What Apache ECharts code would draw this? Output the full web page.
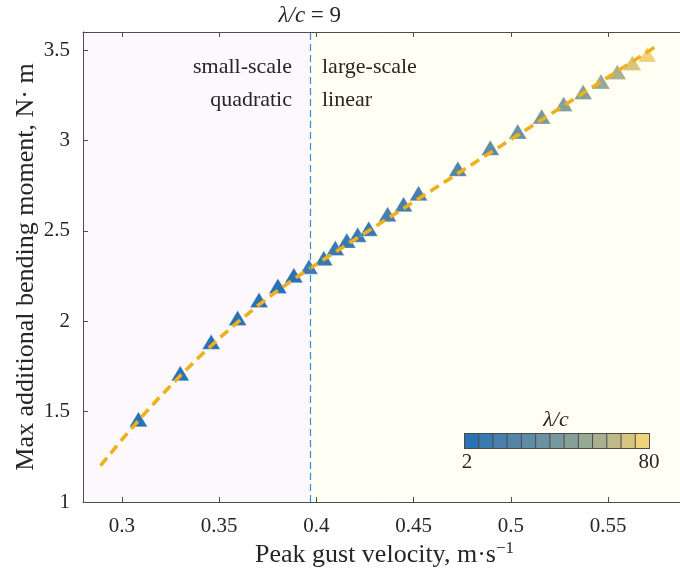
<!DOCTYPE html>
<html>
<head>
<meta charset="utf-8">
<script src="https://cdn.jsdelivr.net/npm/echarts@6/dist/echarts.min.js"></script>
<style>html,body{margin:0;padding:0;background:#fff}#c{width:680px;height:574px}</style>
</head>
<body>
<div id="c"></div>
<script>
// ---- data ----
const gustVelocity = [0.3085,0.330,0.3459,0.3595,0.3705,0.3802,0.3884,0.3962,0.4038,0.4097,0.4156,0.4212,0.4269,0.4366,0.4448,0.4525,0.4727,0.4894,0.5035,0.5158,0.5271,0.5371,0.5463,0.5547,0.5624,0.5701];
const bendingMoment = [1.458,1.712,1.886,2.018,2.118,2.195,2.254,2.302,2.349,2.405,2.446,2.479,2.512,2.592,2.647,2.708,2.843,2.959,3.050,3.133,3.202,3.268,3.326,3.379,3.428,3.475];
const lambdaOverC = [2,3,4,5,6,7,8,9,10,11,12,13,14,16,18,20,25,30,35,40,45,50,55,60,70,80];
const fitX = [0.289,0.300,0.310,0.320,0.330,0.340,0.350,0.360,0.370,0.380,0.390,0.3966,0.575];
const fitY = [1.201,1.345,1.469,1.587,1.699,1.805,1.905,1.999,2.087,2.169,2.245,2.292,3.523];
const transitionX = 0.3966;
const transitionLabel = 9;
const xTicks = [0.3,0.35,0.4,0.45,0.5,0.55];
const yTicks = [1,1.5,2,2.5,3,3.5];
const colorbarMin = 2, colorbarMax = 80, colorbarSteps = 13;
const palette = ['#2a72b4','#3a79b0','#487fac','#5485a8','#5f8ba4','#6b92a1','#77989d','#86a099','#97a894','#aab08e','#bfb987','#d6c47f','#efd27a'];

const FONT = "'Liberation Serif','Times New Roman',serif";
const TXT = '#262626';
const AX = '#4d4d4d';

const chart = echarts.init(document.getElementById('c'), null, {renderer:'canvas'});
const scatterData = gustVelocity.map((x,i)=>[x, bendingMoment[i], lambdaOverC[i]]);
const fitData = fitX.map((x,i)=>[x, fitY[i]]);
const xMin = 0.28, xMax = 0.59, yMin = 1, yMax = 3.6;

chart.setOption({
  animation:false,
  backgroundColor:'#fff',
  grid:{left:83, top:32, width:603, height:470, containLabel:false, outerBoundsMode:'none'},
  xAxis:[{
    type:'value', min:xMin, max:xMax, position:'bottom', z:10,
    axisLine:{show:true, onZero:false, lineStyle:{color:AX, width:1}},
    axisTick:{show:true, inside:true, length:5, customValues:xTicks, lineStyle:{color:AX}},
    axisLabel:{customValues:xTicks, margin:14, color:TXT, fontFamily:FONT, fontSize:21, formatter:v=>String(v)},
    splitLine:{show:false},
    name:'Peak gust velocity, m·s{sup|−1}', nameLocation:'middle', nameGap:38, nameMoveOverlap:false,
    nameTextStyle:{color:TXT, fontFamily:FONT, fontSize:26, lineHeight:30,
      rich:{sup:{fontFamily:FONT, fontSize:17, lineHeight:17, verticalAlign:'top', color:TXT}}}
  },{
    type:'value', min:xMin, max:xMax, position:'top', z:10,
    axisLine:{show:true, onZero:false, lineStyle:{color:AX, width:1}},
    axisTick:{show:true, inside:true, length:5, customValues:xTicks, lineStyle:{color:AX}},
    axisLabel:{show:false}, splitLine:{show:false}
  }],
  yAxis:{
    type:'value', min:yMin, max:yMax, z:10,
    axisLine:{show:true, onZero:false, lineStyle:{color:AX, width:1}},
    axisTick:{show:true, inside:true, length:5, customValues:yTicks, lineStyle:{color:AX}},
    axisLabel:{customValues:yTicks, margin:13, color:TXT, fontFamily:FONT, fontSize:21, formatter:v=>String(v)},
    splitLine:{show:false},
    name:'Max additional bending moment, N· m', nameLocation:'middle', nameGap:44, nameMoveOverlap:false,
    nameTextStyle:{color:TXT, fontFamily:FONT, fontSize:26}
  },
  visualMap:{
    type:'piecewise', dimension:2, seriesIndex:0, z:20,
    min:colorbarMin, max:colorbarMax, splitNumber:colorbarSteps,
    orient:'horizontal', left:464, top:433, padding:1, itemGap:1,
    itemWidth:13.23, itemHeight:14, itemSymbol:'rect', showLabel:false,
    backgroundColor:'#4a4a4a', selectedMode:false, hoverLink:false,
    inRange:{color:palette}
  },
  series:[{
    type:'scatter', data:scatterData, symbol:'triangle', symbolSize:[18,15], z:2,
    itemStyle:{opacity:1, borderColor:'rgba(255,255,255,0.45)', borderWidth:0.6},
    markArea:{silent:true, data:[
      [{xAxis:xMin, itemStyle:{color:'#fcf8fb', opacity:1}},{xAxis:transitionX}],
      [{xAxis:transitionX, itemStyle:{color:'#fffff3', opacity:1}},{xAxis:xMax}]
    ]},
    markLine:{silent:true, symbol:['none','none'], animation:false,
      lineStyle:{color:'#2f8fd6', type:[7,4], width:1.2},
      label:{show:true, position:'end', distance:5, color:TXT, fontFamily:FONT, fontSize:23,
        formatter:'{i|λ/c} = ' + transitionLabel,
        rich:{i:{fontStyle:'italic', fontFamily:FONT, fontSize:23, color:TXT}}},
      data:[[{coord:[transitionX, yMin]},{coord:[transitionX, yMax]}]]}
  },{
    type:'line', data:fitData, showSymbol:false, symbol:'none', z:3,
    lineStyle:{color:'#EDB120', width:3.6, type:[10,6]}
  }],
  graphic:[
    {type:'text', z:100, x:292, y:67, style:{text:'small-scale', align:'right', verticalAlign:'middle', font:"22px "+FONT, fill:TXT}},
    {type:'text', z:100, x:292, y:100, style:{text:'quadratic', align:'right', verticalAlign:'middle', font:"22px "+FONT, fill:TXT}},
    {type:'text', z:100, x:322, y:67, style:{text:'large-scale', align:'left', verticalAlign:'middle', font:"22px "+FONT, fill:TXT}},
    {type:'text', z:100, x:322, y:100, style:{text:'linear', align:'left', verticalAlign:'middle', font:"22px "+FONT, fill:TXT}},
    {type:'text', z:100, x:556, y:420, style:{text:'λ/c', align:'center', verticalAlign:'middle', font:"italic 22px "+FONT, fill:TXT}},
    {type:'text', z:100, x:467, y:462, style:{text:String(colorbarMin), align:'center', verticalAlign:'middle', font:"21px "+FONT, fill:TXT}},
    {type:'text', z:100, x:649, y:462, style:{text:String(colorbarMax), align:'center', verticalAlign:'middle', font:"21px "+FONT, fill:TXT}}
  ]
});
</script>
</body>
</html>
